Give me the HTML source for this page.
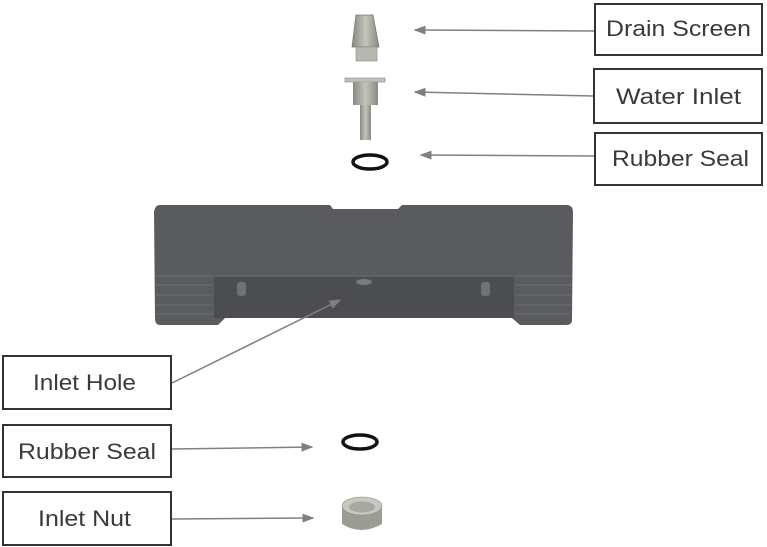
<!DOCTYPE html>
<html><head><meta charset="utf-8"><style>
html,body{margin:0;padding:0;background:#fff;}
svg{display:block}
text{font-family:"Liberation Sans",sans-serif;font-size:22px;fill:#3a3a3a;}
</style></head><body>
<svg width="767" height="547" viewBox="0 0 767 547" xmlns="http://www.w3.org/2000/svg">
<defs>
<marker id="ah" markerWidth="8" markerHeight="6" refX="7" refY="3" orient="auto"><path d="M0,0 L8,3 L0,6 z" fill="#808080"/></marker>
<linearGradient id="g1" x1="0" x2="1"><stop offset="0" stop-color="#8a8a84"/><stop offset=".5" stop-color="#c4c4bc"/><stop offset="1" stop-color="#8a8a84"/></linearGradient>
</defs>
<!-- housing -->
<path d="M160,205 L330,205 L333,209 L398,209 L402,205 L568,205 Q573,206 573,212 L572,320 Q572,325 566,325 L520,325 L512,318 L225,318 L218,325 L160,325 Q155,325 155,318 L154,212 Q155,205 160,205 z" fill="#5a5b5e"/>
<rect x="214" y="276" width="300" height="42" fill="#4c4d50"/>
<g stroke="#6e6f72" stroke-width="1">
<line x1="156" y1="285" x2="213" y2="285"/><line x1="156" y1="295" x2="213" y2="295"/><line x1="156" y1="305" x2="213" y2="305"/><line x1="156" y1="314" x2="213" y2="314"/>
<line x1="515" y1="285" x2="571" y2="285"/><line x1="515" y1="295" x2="571" y2="295"/><line x1="515" y1="305" x2="571" y2="305"/><line x1="515" y1="314" x2="571" y2="314"/>
<line x1="156" y1="276" x2="572" y2="276"/>
</g>
<rect x="237" y="282" width="9" height="14" rx="3" fill="#707175"/>
<rect x="481" y="282" width="9" height="14" rx="3" fill="#707175"/>
<ellipse cx="364" cy="282" rx="8" ry="3" fill="#7a7b7e"/>
<!-- boxes -->
<g fill="#fff" stroke="#333" stroke-width="2">
<rect x="595" y="4" width="167" height="51"/>
<rect x="594" y="69" width="168" height="54"/>
<rect x="595" y="133" width="167" height="52"/>
<rect x="3" y="356" width="168" height="53"/>
<rect x="3" y="425" width="168" height="52"/>
<rect x="3" y="492" width="168" height="53"/>
</g>
<text x="606" y="36" textLength="145" lengthAdjust="spacingAndGlyphs">Drain Screen</text>
<text x="616" y="104" textLength="125" lengthAdjust="spacingAndGlyphs">Water Inlet</text>
<text x="612" y="166" textLength="137" lengthAdjust="spacingAndGlyphs">Rubber Seal</text>
<text x="33" y="390" textLength="103" lengthAdjust="spacingAndGlyphs">Inlet Hole</text>
<text x="18" y="459" textLength="138" lengthAdjust="spacingAndGlyphs">Rubber Seal</text>
<text x="38" y="526" textLength="93" lengthAdjust="spacingAndGlyphs">Inlet Nut</text>
<!-- arrows -->
<g stroke="#808080" stroke-width="1.5" fill="none" marker-end="url(#ah)">
<line x1="594" y1="31" x2="415" y2="30"/>
<line x1="593" y1="96" x2="415" y2="92"/>
<line x1="594" y1="156" x2="421" y2="155"/>
<line x1="172" y1="383" x2="340" y2="300"/>
<line x1="172" y1="449" x2="312" y2="447"/>
<line x1="172" y1="519" x2="313" y2="518"/>
</g>
<!-- drain screen -->
<path d="M356,15 L373,15 L379,47 L352,47 z" fill="url(#g1)" stroke="#777" stroke-width=".8"/>
<rect x="356" y="47" width="21" height="14" fill="#b8b8b0" stroke="#888" stroke-width=".6"/>
<!-- water inlet -->
<rect x="345" y="78" width="40" height="4" fill="#c0c0b8" stroke="#888" stroke-width=".6"/>
<rect x="353" y="82" width="25" height="23" fill="url(#g1)"/>
<rect x="360" y="105" width="11" height="35" fill="url(#g1)"/>
<!-- seals -->
<ellipse cx="370" cy="162" rx="17" ry="7" fill="none" stroke="#111" stroke-width="3.5"/>
<ellipse cx="360" cy="442" rx="17" ry="7" fill="none" stroke="#111" stroke-width="3.5"/>
<!-- nut -->
<path d="M342,508 L342,524 Q361,536 382,524 L382,508 z" fill="#9c9c94"/>
<ellipse cx="362" cy="506" rx="20" ry="9" fill="#c8c8c0" stroke="#888" stroke-width=".6"/>
<ellipse cx="362" cy="507" rx="13" ry="5.5" fill="#a8a8a0"/>
</svg>
</body></html>
